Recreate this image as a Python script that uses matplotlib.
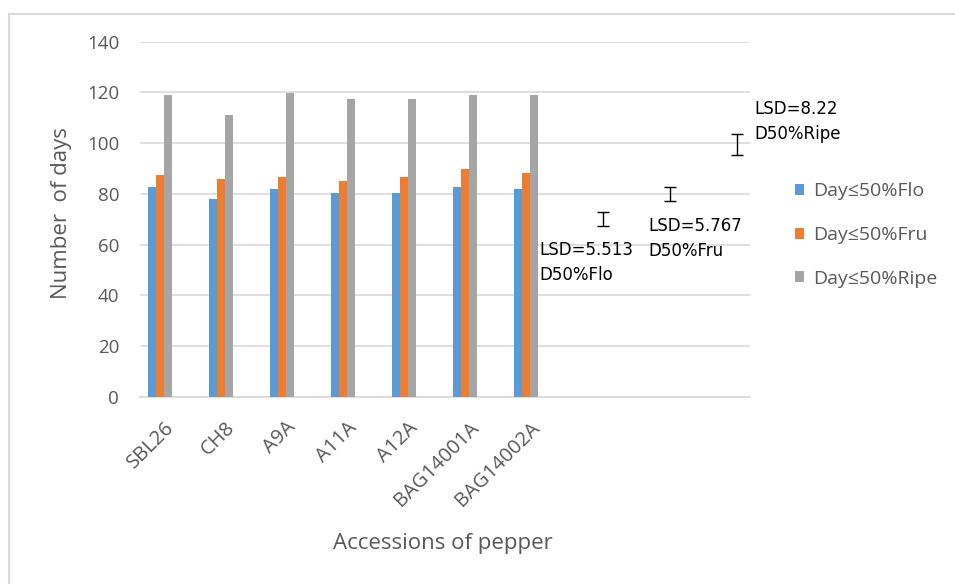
import matplotlib
matplotlib.use("Agg")
import matplotlib.pyplot as plt
from matplotlib.patches import Rectangle, Patch
from matplotlib.transforms import ScaledTranslation
import numpy as np

categories = ["SBL26", "CH8", "A9A", "A11A", "A12A", "BAG14001A", "BAG14002A"]
days_flo = [82.6, 77.9, 81.8, 80.2, 80.2, 82.6, 81.8]
days_fru = [87.3, 85.8, 86.5, 85.0, 86.5, 89.7, 88.1]
days_ripe = [118.9, 111.0, 119.9, 117.3, 117.3, 118.9, 118.9]
series_names = ["Day\u226450%Flo", "Day\u226450%Fru", "Day\u226450%Ripe"]

lsd_values = [5.513, 5.767, 8.22]
lsd_centers = [70.2, 80.0, 99.3]
lsd_x = [7.26, 8.36, 9.46]
lsd_labels = ["LSD=5.513\nD50%Flo", "LSD=5.767\nD50%Fru", "LSD=8.22\nD50%Ripe"]

colors = ["#5B9BD5", "#ED7D31", "#A5A5A5"]
text_gray = "#595959"
grid_gray = "#D9D9D9"
font_main = "Open Sans"

W, H = 955, 584
fig = plt.figure(figsize=(W / 100, H / 100), dpi=100)

# chart border (left and top visible)
fig.patches.append(Rectangle((8.5 / W, -0.1), 1.2, (H - 14) / H + 0.1,
                             transform=fig.transFigure, fill=False,
                             edgecolor="#D9D9D9", linewidth=1.5))

ax = fig.add_axes([140 / W, 1 - 396.7 / H, (750 - 140) / W, (396.7 - 41.7) / H])

x = np.arange(len(categories))
bw = 0.13
for k, vals in enumerate([days_flo, days_fru, days_ripe]):
    ax.bar(x + (k - 1) * bw, vals, width=bw, color=colors[k], label=series_names[k], zorder=3)

# LSD error bars
for xi, c, v in zip(lsd_x, lsd_centers, lsd_values):
    ax.errorbar(xi, c, yerr=v / 2, fmt="none", ecolor="black", elinewidth=1.0,
                capsize=4.5, capthick=1.0, zorder=4)

lsd_kw = dict(fontsize=12, color="black", family="DejaVu Sans", ha="left", va="top",
              linespacing=1.5)
ax.text(lsd_x[0] - 1.04, 61.4, lsd_labels[0], **lsd_kw)
ax.text(lsd_x[1] - 0.35, 71.0, lsd_labels[1], **lsd_kw)
ax.text(lsd_x[2] + 0.28, 117.0, lsd_labels[2], **lsd_kw)

ax.set_xlim((140 - 160) / 61, (750 - 160) / 61)
ax.set_ylim(0, 140)
ax.set_yticks(np.arange(0, 141, 20))
ax.yaxis.grid(True, color=grid_gray, linewidth=1.2, zorder=0)
ax.set_axisbelow(True)
for s in ["top", "right", "left"]:
    ax.spines[s].set_visible(False)
ax.spines["bottom"].set_color(grid_gray)
ax.spines["bottom"].set_linewidth(1.2)
ax.tick_params(axis="y", length=0, pad=15, labelsize=13.5, labelcolor=text_gray)
ax.tick_params(axis="x", length=0, pad=0, labelsize=14.5, labelcolor=text_gray)
for lab in ax.get_yticklabels():
    lab.set_family(font_main)

ax.set_xticks(x)
ax.set_xticklabels(categories, rotation=45, ha="right", va="center",
                   rotation_mode="anchor", family=font_main)
offset = ScaledTranslation(11 / 100, -28 / 100, fig.dpi_scale_trans)
for lab in ax.get_xticklabels():
    lab.set_transform(lab.get_transform() + offset)

fig.text(62 / W, 1 - 213 / H, "Number  of days", rotation=90, ha="center", va="center",
         fontsize=16, color=text_gray, family=font_main)
fig.text(443 / W, 1 - 543 / H, "Accessions of pepper", ha="center", va="center",
         fontsize=16, color=text_gray, family=font_main)

handles = [Patch(facecolor=c, edgecolor="none") for c in colors]
fig.legend(handles, series_names, loc="upper left", bbox_to_anchor=(777 / W, 1 - 165 / H),
           frameon=False, handlelength=0.5, handleheight=0.5, handletextpad=0.45,
           labelspacing=1.32, prop={"family": font_main, "size": 14},
           labelcolor=text_gray)

fig.savefig("out.png", dpi=100, facecolor="white")
